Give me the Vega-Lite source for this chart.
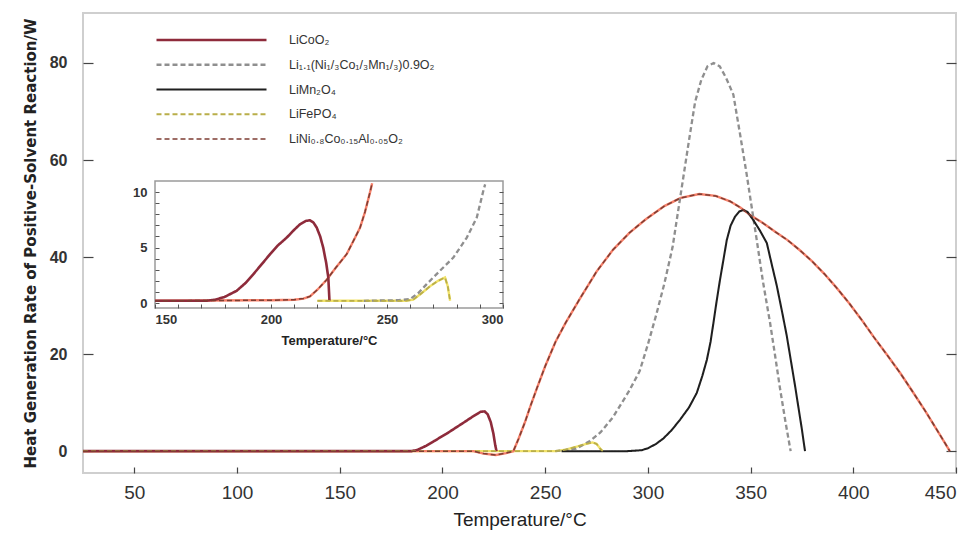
{
  "$schema": "https://vega.github.io/schema/vega-lite/v6.json",
  "width": 873,
  "height": 460,
  "autosize": {"type": "none"},
  "padding": {"left": 83, "top": 13, "right": 7, "bottom": 64},
  "background": "white",
  "view": {"stroke": "#cfcfcf", "strokeWidth": 2},
  "config": {"font": "Liberation Sans"},
  "datasets": {
    "main": [
      {"s": "LiCoO₂", "t": 25, "q": 0}, {"s": "LiCoO₂", "t": 120, "q": 0}, {"s": "LiCoO₂", "t": 185, "q": 0},
      {"s": "LiCoO₂", "t": 188, "q": 0.3}, {"s": "LiCoO₂", "t": 192, "q": 1.1}, {"s": "LiCoO₂", "t": 196, "q": 2.1},
      {"s": "LiCoO₂", "t": 202, "q": 3.6}, {"s": "LiCoO₂", "t": 210, "q": 5.8}, {"s": "LiCoO₂", "t": 215, "q": 7.2},
      {"s": "LiCoO₂", "t": 218.5, "q": 8.1}, {"s": "LiCoO₂", "t": 220.5, "q": 8.2}, {"s": "LiCoO₂", "t": 222, "q": 7.6},
      {"s": "LiCoO₂", "t": 223.5, "q": 6.0}, {"s": "LiCoO₂", "t": 224.8, "q": 3.6}, {"s": "LiCoO₂", "t": 225.7, "q": 1.2},
      {"s": "LiCoO₂", "t": 226.3, "q": 0},

      {"s": "Li₁.₁(Ni₁/₃Co₁/₃Mn₁/₃)0.9O₂", "t": 255, "q": 0}, {"s": "Li₁.₁(Ni₁/₃Co₁/₃Mn₁/₃)0.9O₂", "t": 265, "q": 0.5},
      {"s": "Li₁.₁(Ni₁/₃Co₁/₃Mn₁/₃)0.9O₂", "t": 271.8, "q": 2.1}, {"s": "Li₁.₁(Ni₁/₃Co₁/₃Mn₁/₃)0.9O₂", "t": 277, "q": 3.9},
      {"s": "Li₁.₁(Ni₁/₃Co₁/₃Mn₁/₃)0.9O₂", "t": 283, "q": 7}, {"s": "Li₁.₁(Ni₁/₃Co₁/₃Mn₁/₃)0.9O₂", "t": 291, "q": 12.5},
      {"s": "Li₁.₁(Ni₁/₃Co₁/₃Mn₁/₃)0.9O₂", "t": 296, "q": 16.5}, {"s": "Li₁.₁(Ni₁/₃Co₁/₃Mn₁/₃)0.9O₂", "t": 300, "q": 22},
      {"s": "Li₁.₁(Ni₁/₃Co₁/₃Mn₁/₃)0.9O₂", "t": 304, "q": 28}, {"s": "Li₁.₁(Ni₁/₃Co₁/₃Mn₁/₃)0.9O₂", "t": 308, "q": 34.5},
      {"s": "Li₁.₁(Ni₁/₃Co₁/₃Mn₁/₃)0.9O₂", "t": 312, "q": 42}, {"s": "Li₁.₁(Ni₁/₃Co₁/₃Mn₁/₃)0.9O₂", "t": 316, "q": 53},
      {"s": "Li₁.₁(Ni₁/₃Co₁/₃Mn₁/₃)0.9O₂", "t": 320, "q": 64}, {"s": "Li₁.₁(Ni₁/₃Co₁/₃Mn₁/₃)0.9O₂", "t": 323, "q": 72},
      {"s": "Li₁.₁(Ni₁/₃Co₁/₃Mn₁/₃)0.9O₂", "t": 326, "q": 76.5}, {"s": "Li₁.₁(Ni₁/₃Co₁/₃Mn₁/₃)0.9O₂", "t": 329, "q": 79.3},
      {"s": "Li₁.₁(Ni₁/₃Co₁/₃Mn₁/₃)0.9O₂", "t": 332, "q": 80}, {"s": "Li₁.₁(Ni₁/₃Co₁/₃Mn₁/₃)0.9O₂", "t": 335, "q": 79.3},
      {"s": "Li₁.₁(Ni₁/₃Co₁/₃Mn₁/₃)0.9O₂", "t": 338, "q": 77}, {"s": "Li₁.₁(Ni₁/₃Co₁/₃Mn₁/₃)0.9O₂", "t": 341.6, "q": 73.5},
      {"s": "Li₁.₁(Ni₁/₃Co₁/₃Mn₁/₃)0.9O₂", "t": 345, "q": 65}, {"s": "Li₁.₁(Ni₁/₃Co₁/₃Mn₁/₃)0.9O₂", "t": 348, "q": 57.3},
      {"s": "Li₁.₁(Ni₁/₃Co₁/₃Mn₁/₃)0.9O₂", "t": 353, "q": 43.5}, {"s": "Li₁.₁(Ni₁/₃Co₁/₃Mn₁/₃)0.9O₂", "t": 356, "q": 35},
      {"s": "Li₁.₁(Ni₁/₃Co₁/₃Mn₁/₃)0.9O₂", "t": 359.5, "q": 26.4}, {"s": "Li₁.₁(Ni₁/₃Co₁/₃Mn₁/₃)0.9O₂", "t": 362, "q": 19.5},
      {"s": "Li₁.₁(Ni₁/₃Co₁/₃Mn₁/₃)0.9O₂", "t": 364.3, "q": 13}, {"s": "Li₁.₁(Ni₁/₃Co₁/₃Mn₁/₃)0.9O₂", "t": 367, "q": 6},
      {"s": "Li₁.₁(Ni₁/₃Co₁/₃Mn₁/₃)0.9O₂", "t": 369.5, "q": 0},

      {"s": "LiMn₂O₄", "t": 258, "q": 0}, {"s": "LiMn₂O₄", "t": 290, "q": 0}, {"s": "LiMn₂O₄", "t": 297, "q": 0.2},
      {"s": "LiMn₂O₄", "t": 300, "q": 0.6}, {"s": "LiMn₂O₄", "t": 304, "q": 1.5}, {"s": "LiMn₂O₄", "t": 307.5, "q": 2.6},
      {"s": "LiMn₂O₄", "t": 311.5, "q": 4.3}, {"s": "LiMn₂O₄", "t": 315.7, "q": 6.5}, {"s": "LiMn₂O₄", "t": 320, "q": 9},
      {"s": "LiMn₂O₄", "t": 323.8, "q": 12}, {"s": "LiMn₂O₄", "t": 326.5, "q": 15.5}, {"s": "LiMn₂O₄", "t": 328.7, "q": 18.8},
      {"s": "LiMn₂O₄", "t": 330.5, "q": 22.5}, {"s": "LiMn₂O₄", "t": 331.9, "q": 26.4}, {"s": "LiMn₂O₄", "t": 333.5, "q": 31},
      {"s": "LiMn₂O₄", "t": 335.1, "q": 35.3}, {"s": "LiMn₂O₄", "t": 336.8, "q": 39.5}, {"s": "LiMn₂O₄", "t": 338.4, "q": 43.5},
      {"s": "LiMn₂O₄", "t": 340.3, "q": 46.5}, {"s": "LiMn₂O₄", "t": 342.4, "q": 48.3}, {"s": "LiMn₂O₄", "t": 344.5, "q": 49.4},
      {"s": "LiMn₂O₄", "t": 346.5, "q": 49.7}, {"s": "LiMn₂O₄", "t": 348.5, "q": 49.3}, {"s": "LiMn₂O₄", "t": 351.2, "q": 47.7},
      {"s": "LiMn₂O₄", "t": 354.5, "q": 45.5}, {"s": "LiMn₂O₄", "t": 357.9, "q": 42.9}, {"s": "LiMn₂O₄", "t": 360.3, "q": 38.5},
      {"s": "LiMn₂O₄", "t": 362.7, "q": 34.2}, {"s": "LiMn₂O₄", "t": 365.2, "q": 29}, {"s": "LiMn₂O₄", "t": 367.6, "q": 23.8},
      {"s": "LiMn₂O₄", "t": 369.6, "q": 18.7}, {"s": "LiMn₂O₄", "t": 371.6, "q": 13.6}, {"s": "LiMn₂O₄", "t": 373.3, "q": 9},
      {"s": "LiMn₂O₄", "t": 374.9, "q": 4.7}, {"s": "LiMn₂O₄", "t": 376.5, "q": 0},

      {"s": "LiFePO₄", "t": 25, "q": 0}, {"s": "LiFePO₄", "t": 150, "q": 0}, {"s": "LiFePO₄", "t": 255, "q": 0},
      {"s": "LiFePO₄", "t": 260, "q": 0.3}, {"s": "LiFePO₄", "t": 265, "q": 0.9}, {"s": "LiFePO₄", "t": 270, "q": 1.5},
      {"s": "LiFePO₄", "t": 273, "q": 1.8}, {"s": "LiFePO₄", "t": 275, "q": 1.5}, {"s": "LiFePO₄", "t": 277, "q": 0.4},
      {"s": "LiFePO₄", "t": 278, "q": 0},

      {"s": "LiNi₀.₈Co₀.₁₅Al₀.₀₅O₂", "t": 25, "q": 0}, {"s": "LiNi₀.₈Co₀.₁₅Al₀.₀₅O₂", "t": 150, "q": 0},
      {"s": "LiNi₀.₈Co₀.₁₅Al₀.₀₅O₂", "t": 215, "q": 0}, {"s": "LiNi₀.₈Co₀.₁₅Al₀.₀₅O₂", "t": 220, "q": -0.5},
      {"s": "LiNi₀.₈Co₀.₁₅Al₀.₀₅O₂", "t": 226, "q": -0.8}, {"s": "LiNi₀.₈Co₀.₁₅Al₀.₀₅O₂", "t": 231, "q": -0.4},
      {"s": "LiNi₀.₈Co₀.₁₅Al₀.₀₅O₂", "t": 234.5, "q": 0}, {"s": "LiNi₀.₈Co₀.₁₅Al₀.₀₅O₂", "t": 237, "q": 2.5},
      {"s": "LiNi₀.₈Co₀.₁₅Al₀.₀₅O₂", "t": 240, "q": 5.8}, {"s": "LiNi₀.₈Co₀.₁₅Al₀.₀₅O₂", "t": 243, "q": 9.5},
      {"s": "LiNi₀.₈Co₀.₁₅Al₀.₀₅O₂", "t": 246, "q": 13}, {"s": "LiNi₀.₈Co₀.₁₅Al₀.₀₅O₂", "t": 250, "q": 17.5},
      {"s": "LiNi₀.₈Co₀.₁₅Al₀.₀₅O₂", "t": 255, "q": 22.5}, {"s": "LiNi₀.₈Co₀.₁₅Al₀.₀₅O₂", "t": 260, "q": 26.5},
      {"s": "LiNi₀.₈Co₀.₁₅Al₀.₀₅O₂", "t": 267, "q": 31.5}, {"s": "LiNi₀.₈Co₀.₁₅Al₀.₀₅O₂", "t": 275, "q": 37},
      {"s": "LiNi₀.₈Co₀.₁₅Al₀.₀₅O₂", "t": 283, "q": 41.5}, {"s": "LiNi₀.₈Co₀.₁₅Al₀.₀₅O₂", "t": 291, "q": 45},
      {"s": "LiNi₀.₈Co₀.₁₅Al₀.₀₅O₂", "t": 299, "q": 47.8}, {"s": "LiNi₀.₈Co₀.₁₅Al₀.₀₅O₂", "t": 308, "q": 50.5},
      {"s": "LiNi₀.₈Co₀.₁₅Al₀.₀₅O₂", "t": 316, "q": 52.2}, {"s": "LiNi₀.₈Co₀.₁₅Al₀.₀₅O₂", "t": 325, "q": 53},
      {"s": "LiNi₀.₈Co₀.₁₅Al₀.₀₅O₂", "t": 333, "q": 52.6}, {"s": "LiNi₀.₈Co₀.₁₅Al₀.₀₅O₂", "t": 340, "q": 51.5},
      {"s": "LiNi₀.₈Co₀.₁₅Al₀.₀₅O₂", "t": 345, "q": 50.2}, {"s": "LiNi₀.₈Co₀.₁₅Al₀.₀₅O₂", "t": 350, "q": 48.6},
      {"s": "LiNi₀.₈Co₀.₁₅Al₀.₀₅O₂", "t": 356, "q": 47}, {"s": "LiNi₀.₈Co₀.₁₅Al₀.₀₅O₂", "t": 362, "q": 45.2},
      {"s": "LiNi₀.₈Co₀.₁₅Al₀.₀₅O₂", "t": 368, "q": 43.5}, {"s": "LiNi₀.₈Co₀.₁₅Al₀.₀₅O₂", "t": 374, "q": 41.4},
      {"s": "LiNi₀.₈Co₀.₁₅Al₀.₀₅O₂", "t": 380, "q": 39.1}, {"s": "LiNi₀.₈Co₀.₁₅Al₀.₀₅O₂", "t": 386, "q": 36.5},
      {"s": "LiNi₀.₈Co₀.₁₅Al₀.₀₅O₂", "t": 392, "q": 33.6}, {"s": "LiNi₀.₈Co₀.₁₅Al₀.₀₅O₂", "t": 398, "q": 30.5},
      {"s": "LiNi₀.₈Co₀.₁₅Al₀.₀₅O₂", "t": 404, "q": 27.1}, {"s": "LiNi₀.₈Co₀.₁₅Al₀.₀₅O₂", "t": 410, "q": 23.5},
      {"s": "LiNi₀.₈Co₀.₁₅Al₀.₀₅O₂", "t": 416.5, "q": 19.8}, {"s": "LiNi₀.₈Co₀.₁₅Al₀.₀₅O₂", "t": 423, "q": 16},
      {"s": "LiNi₀.₈Co₀.₁₅Al₀.₀₅O₂", "t": 429, "q": 12.2}, {"s": "LiNi₀.₈Co₀.₁₅Al₀.₀₅O₂", "t": 435, "q": 8.3},
      {"s": "LiNi₀.₈Co₀.₁₅Al₀.₀₅O₂", "t": 441, "q": 4.2}, {"s": "LiNi₀.₈Co₀.₁₅Al₀.₀₅O₂", "t": 447, "q": 0}
    ],
    "inset": [
      {"s": "LiCoO₂", "t": 150, "q": 0.2}, {"s": "LiCoO₂", "t": 172, "q": 0.2}, {"s": "LiCoO₂", "t": 176, "q": 0.3},
      {"s": "LiCoO₂", "t": 180, "q": 0.55}, {"s": "LiCoO₂", "t": 185.2, "q": 1.1}, {"s": "LiCoO₂", "t": 189, "q": 1.8},
      {"s": "LiCoO₂", "t": 192.4, "q": 2.6}, {"s": "LiCoO₂", "t": 196, "q": 3.5}, {"s": "LiCoO₂", "t": 199.6, "q": 4.4},
      {"s": "LiCoO₂", "t": 203, "q": 5.2}, {"s": "LiCoO₂", "t": 206.8, "q": 5.9}, {"s": "LiCoO₂", "t": 210, "q": 6.6},
      {"s": "LiCoO₂", "t": 212.5, "q": 7.1}, {"s": "LiCoO₂", "t": 215, "q": 7.4}, {"s": "LiCoO₂", "t": 216.8, "q": 7.46},
      {"s": "LiCoO₂", "t": 218.3, "q": 7.25}, {"s": "LiCoO₂", "t": 219.7, "q": 6.8}, {"s": "LiCoO₂", "t": 221.2, "q": 6.0},
      {"s": "LiCoO₂", "t": 222.5, "q": 5.0}, {"s": "LiCoO₂", "t": 223.8, "q": 3.6}, {"s": "LiCoO₂", "t": 224.7, "q": 2.3},
      {"s": "LiCoO₂", "t": 225.2, "q": 0.2},

      {"s": "Li₁.₁(Ni₁/₃Co₁/₃Mn₁/₃)0.9O₂", "t": 240, "q": 0.2}, {"s": "Li₁.₁(Ni₁/₃Co₁/₃Mn₁/₃)0.9O₂", "t": 255, "q": 0.25},
      {"s": "Li₁.₁(Ni₁/₃Co₁/₃Mn₁/₃)0.9O₂", "t": 259.9, "q": 0.35}, {"s": "Li₁.₁(Ni₁/₃Co₁/₃Mn₁/₃)0.9O₂", "t": 263.5, "q": 0.9},
      {"s": "Li₁.₁(Ni₁/₃Co₁/₃Mn₁/₃)0.9O₂", "t": 267.1, "q": 1.7}, {"s": "Li₁.₁(Ni₁/₃Co₁/₃Mn₁/₃)0.9O₂", "t": 272.8, "q": 2.9},
      {"s": "Li₁.₁(Ni₁/₃Co₁/₃Mn₁/₃)0.9O₂", "t": 278.6, "q": 4.1}, {"s": "Li₁.₁(Ni₁/₃Co₁/₃Mn₁/₃)0.9O₂", "t": 284.4, "q": 5.9},
      {"s": "Li₁.₁(Ni₁/₃Co₁/₃Mn₁/₃)0.9O₂", "t": 288.7, "q": 7.7}, {"s": "Li₁.₁(Ni₁/₃Co₁/₃Mn₁/₃)0.9O₂", "t": 291.5, "q": 10.1},
      {"s": "Li₁.₁(Ni₁/₃Co₁/₃Mn₁/₃)0.9O₂", "t": 292.3, "q": 10.7},

      {"s": "LiFePO₄", "t": 220, "q": 0.2}, {"s": "LiFePO₄", "t": 258, "q": 0.2}, {"s": "LiFePO₄", "t": 261.3, "q": 0.3},
      {"s": "LiFePO₄", "t": 265, "q": 0.9}, {"s": "LiFePO₄", "t": 268.5, "q": 1.5}, {"s": "LiFePO₄", "t": 272, "q": 2.0},
      {"s": "LiFePO₄", "t": 275, "q": 2.3}, {"s": "LiFePO₄", "t": 276.2, "q": 1.5}, {"s": "LiFePO₄", "t": 277.2, "q": 0.2},

      {"s": "LiNi₀.₈Co₀.₁₅Al₀.₀₅O₂", "t": 150, "q": 0.2}, {"s": "LiNi₀.₈Co₀.₁₅Al₀.₀₅O₂", "t": 200, "q": 0.25},
      {"s": "LiNi₀.₈Co₀.₁₅Al₀.₀₅O₂", "t": 210, "q": 0.3}, {"s": "LiNi₀.₈Co₀.₁₅Al₀.₀₅O₂", "t": 214, "q": 0.4},
      {"s": "LiNi₀.₈Co₀.₁₅Al₀.₀₅O₂", "t": 216.8, "q": 0.6}, {"s": "LiNi₀.₈Co₀.₁₅Al₀.₀₅O₂", "t": 220, "q": 1.2},
      {"s": "LiNi₀.₈Co₀.₁₅Al₀.₀₅O₂", "t": 224, "q": 2.1}, {"s": "LiNi₀.₈Co₀.₁₅Al₀.₀₅O₂", "t": 228, "q": 3.2},
      {"s": "LiNi₀.₈Co₀.₁₅Al₀.₀₅O₂", "t": 232.6, "q": 4.4}, {"s": "LiNi₀.₈Co₀.₁₅Al₀.₀₅O₂", "t": 236, "q": 5.8},
      {"s": "LiNi₀.₈Co₀.₁₅Al₀.₀₅O₂", "t": 238.4, "q": 6.8}, {"s": "LiNi₀.₈Co₀.₁₅Al₀.₀₅O₂", "t": 240.5, "q": 8.2},
      {"s": "LiNi₀.₈Co₀.₁₅Al₀.₀₅O₂", "t": 242.7, "q": 10.0}, {"s": "LiNi₀.₈Co₀.₁₅Al₀.₀₅O₂", "t": 243.6, "q": 10.8}
    ]
  },
  "resolve": {"scale": {"x": "independent", "y": "independent"}},
  "layer": [
    {
      "data": {"name": "main"},
      "resolve": {"axis": {"y": "independent"}},
      "layer": [
        {
          "transform": [{"filter": {"field": "s", "equal": "LiFePO₄"}}],
          "mark": {"type": "line", "color": "#f1e26a", "strokeWidth": 2.4},
          "encoding": {
            "x": {"field": "t", "type": "quantitative",
                  "scale": {"domain": [25, 450], "nice": false, "zero": false},
                  "axis": {"orient": "bottom", "offset": -6, "values": [50, 100, 150, 200, 250, 300, 350, 400, 450], "tickSize": 6, "tickColor": "#444", "tickWidth": 1.2,
                           "domain": false, "grid": false, "labelFontSize": 19,
                           "labelColor": "#333", "labelPadding": 10, "title": "Temperature/°C",
                           "titleFontSize": 19, "titleFontWeight": "normal", "titleColor": "#222", "titlePadding": 8}},
            "y": {"field": "q", "type": "quantitative",
                  "scale": {"domain": [-4.5, 90.3], "nice": false, "zero": false},
                  "axis": {"orient": "left", "offset": -10, "values": [0, 20, 40, 60, 80], "tickSize": 10, "tickColor": "#444", "tickWidth": 1.2,
                           "domain": false, "grid": false, "labelFontSize": 16, "labelFontWeight": "bold", "labelColor": "#333",
                           "labelPadding": 16, "title": "Heat Generation Rate of Positive-Solvent Reaction/W", "titleFont": "DejaVu Sans", "titleFontSize": 15,
                           "titleFontWeight": "bold", "titleColor": "#222", "titlePadding": 11}}
          }
        },
        {
          "transform": [{"filter": {"field": "s", "equal": "LiNi₀.₈Co₀.₁₅Al₀.₀₅O₂"}}],
          "mark": {"type": "line", "color": "#f5806a", "strokeWidth": 2.4},
          "encoding": {
            "x": {"field": "t", "type": "quantitative", "scale": {"domain": [25, 450], "nice": false, "zero": false}},
            "y": {"field": "q", "type": "quantitative", "scale": {"domain": [-4.5, 90.3], "nice": false, "zero": false},
                  "axis": {"orient": "right", "offset": -10, "values": [0, 20, 40, 60, 80], "tickSize": 10, "tickColor": "#444", "tickWidth": 1.2,
                           "domain": false, "grid": false, "labels": false, "title": null}}
          }
        },
        {
          "mark": {"type": "line"},
          "encoding": {
            "x": {"field": "t", "type": "quantitative", "scale": {"domain": [25, 450], "nice": false, "zero": false}},
            "y": {"field": "q", "type": "quantitative", "scale": {"domain": [-4.5, 90.3], "nice": false, "zero": false}, "axis": null},
            "color": {"field": "s", "type": "ordinal",
                      "scale": {"domain": ["LiCoO₂", "Li₁.₁(Ni₁/₃Co₁/₃Mn₁/₃)0.9O₂", "LiMn₂O₄", "LiFePO₄", "LiNi₀.₈Co₀.₁₅Al₀.₀₅O₂"],
                                "range": ["#8e2b3b", "#8f8f8f", "#1f1f1f", "#b9ae4a", "#7e3d33"]},
                      "legend": {"orient": "none", "legendX": 72, "legendY": 15, "title": null, "symbolType": "stroke",
                                 "symbolSize": 12100, "clipHeight": 24, "rowPadding": 0.75, "labelOffset": 21, "labelFontSize": 12.5,
                                 "labelColor": "#333", "padding": 0}},
            "strokeDash": {"field": "s", "type": "ordinal",
                           "scale": {"domain": ["LiCoO₂", "Li₁.₁(Ni₁/₃Co₁/₃Mn₁/₃)0.9O₂", "LiMn₂O₄", "LiFePO₄", "LiNi₀.₈Co₀.₁₅Al₀.₀₅O₂"],
                                     "range": [[1, 0], [5, 3], [1, 0], [5, 3], [5, 3]]}},
            "strokeWidth": {"field": "s", "type": "ordinal",
                            "scale": {"domain": ["LiCoO₂", "Li₁.₁(Ni₁/₃Co₁/₃Mn₁/₃)0.9O₂", "LiMn₂O₄", "LiFePO₄", "LiNi₀.₈Co₀.₁₅Al₀.₀₅O₂"],
                                      "range": [2.6, 1.5, 2.6, 1.8, 1.8]}}
          }
        }
      ]
    },
    {
      "resolve": {"axis": {"y": "independent"}},
      "layer": [
        {
          "data": {"values": [{}]},
          "mark": {"type": "rect", "fill": "white", "stroke": "#9a9a9a", "strokeWidth": 1.5},
          "encoding": {
            "x": {"datum": 150, "type": "quantitative",
                  "scale": {"domain": [150, 300], "range": [72, 420], "nice": false, "zero": false},
                  "axis": {"orient": "bottom", "offset": -169, "zindex": 1, "values": [150, 160, 170, 180, 190, 200, 210, 220, 230, 240, 250, 260, 270, 280, 290, 300],
                           "labelExpr": "datum.value % 50 === 0 ? datum.label : ''", "tickSize": 4, "tickColor": "#555", "domain": false, "grid": false,
                           "labelFontSize": 13, "labelFontWeight": "bold", "labelColor": "#333", "labelPadding": 5,
                           "title": "Temperature/°C", "titleFontSize": 13, "titleFontWeight": "bold", "titleColor": "#222", "titlePadding": 8}},
            "x2": {"datum": 300},
            "y": {"datum": -0.45, "type": "quantitative",
                  "scale": {"domain": [-0.45, 11.0], "range": [295, 168], "nice": false, "zero": false},
                  "axis": {"orient": "left", "offset": -76, "zindex": 1, "values": [0, 1, 2, 3, 4, 5, 6, 7, 8, 9, 10],
                           "labelExpr": "datum.value % 5 === 0 ? datum.label : ''", "tickSize": 4, "tickColor": "#555", "domain": false, "grid": false,
                           "labelFontSize": 13, "labelFontWeight": "bold", "labelColor": "#333", "labelPadding": 8, "title": null}},
            "y2": {"datum": 11.0}
          }
        },
        {
          "data": {"name": "inset"},
          "transform": [{"filter": {"field": "s", "equal": "LiFePO₄"}}],
          "mark": {"type": "line", "color": "#f1e26a", "strokeWidth": 2.4},
          "encoding": {
            "x": {"field": "t", "type": "quantitative", "scale": {"domain": [150, 300], "range": [72, 420], "nice": false, "zero": false}},
            "y": {"field": "q", "type": "quantitative", "scale": {"domain": [-0.45, 11.0], "range": [295, 168], "nice": false, "zero": false},
                  "axis": {"orient": "right", "offset": -457, "zindex": 1, "values": [0, 1, 2, 3, 4, 5, 6, 7, 8, 9, 10], "tickSize": 4,
                           "tickColor": "#555", "domain": false, "grid": false, "labels": false, "title": null}}
          }
        },
        {
          "data": {"name": "inset"},
          "transform": [{"filter": {"field": "s", "equal": "LiNi₀.₈Co₀.₁₅Al₀.₀₅O₂"}}],
          "mark": {"type": "line", "color": "#f5806a", "strokeWidth": 2.4},
          "encoding": {
            "x": {"field": "t", "type": "quantitative", "scale": {"domain": [150, 300], "range": [72, 420], "nice": false, "zero": false}},
            "y": {"field": "q", "type": "quantitative", "scale": {"domain": [-0.45, 11.0], "range": [295, 168], "nice": false, "zero": false}, "axis": null}
          }
        },
        {
          "data": {"name": "inset"},
          "mark": {"type": "line"},
          "encoding": {
            "x": {"field": "t", "type": "quantitative", "scale": {"domain": [150, 300], "range": [72, 420], "nice": false, "zero": false}},
            "y": {"field": "q", "type": "quantitative", "scale": {"domain": [-0.45, 11.0], "range": [295, 168], "nice": false, "zero": false}, "axis": null},
            "color": {"field": "s", "type": "ordinal", "legend": null},
            "strokeDash": {"field": "s", "type": "ordinal", "legend": null},
            "strokeWidth": {"field": "s", "type": "ordinal", "legend": null}
          }
        }
      ]
    }
  ]
}
